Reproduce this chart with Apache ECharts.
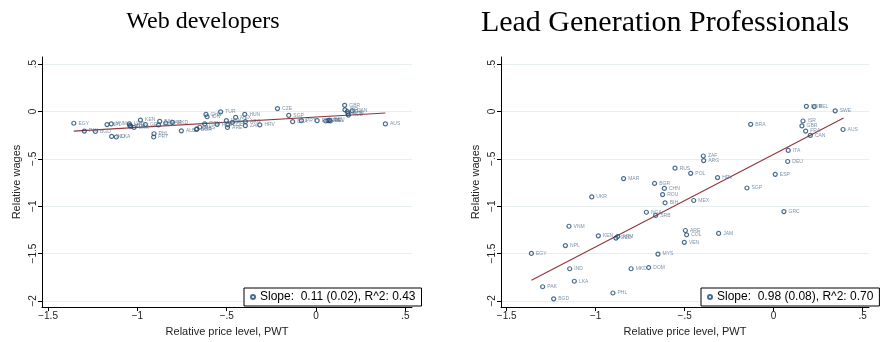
<!DOCTYPE html>
<html>
<head>
<meta charset="utf-8">
<script src="https://cdn.jsdelivr.net/npm/echarts@6/dist/echarts.min.js"></script>
<style>
html,body{margin:0;padding:0;background:#fff;}
#c{width:885px;height:342px;}
</style>
</head>
<body>
<div id="c"></div>
<script>
// ---- Data ----
const titles = ['Web developers', 'Lead Generation Professionals'];
const xTicks = [-1.5, -1, -0.5, 0, 0.5];
const yTicks = [-2, -1.5, -1, -0.5, 0, 0.5];

const webCodes = ['EGY','PAK','BGD','NPL','VNM','IND','LKA','UZB','MDA','KGZ','UKR','KEN','GEO','PHL','PRY','ARM','BIH','MAR','MKD','ALB','BGR','SRB','MYS','ROU','CHN','IDN','RUS','TUR','VEN','COL','ARE','POL','MEX','HUN','ARG','ZAF','HRV','CZE','SGP','BRA','PRT','ESP','GRC','ITA','DEU','BEL','GBR','ISR','FRA','NOR','CAN','NLD','AUS'];
const webPrice = [-1.356,-1.297,-1.235,-1.170,-1.146,-1.144,-1.118,-1.045,-1.043,-1.037,-1.019,-0.983,-0.955,-0.907,-0.909,-0.882,-0.875,-0.841,-0.804,-0.754,-0.670,-0.667,-0.651,-0.623,-0.616,-0.610,-0.554,-0.534,-0.502,-0.494,-0.496,-0.468,-0.450,-0.399,-0.396,-0.396,-0.315,-0.216,-0.153,-0.131,-0.082,0.006,0.054,0.067,0.075,0.080,0.160,0.162,0.175,0.179,0.203,0.181,0.388];
const webWage  = [-0.124,-0.207,-0.211,-0.138,-0.131,-0.263,-0.269,-0.131,-0.148,-0.155,-0.169,-0.090,-0.138,-0.235,-0.269,-0.142,-0.104,-0.121,-0.114,-0.204,-0.190,-0.183,-0.166,-0.131,-0.031,-0.055,-0.135,-0.003,-0.097,-0.140,-0.169,-0.114,-0.062,-0.031,-0.107,-0.149,-0.142,0.031,-0.041,-0.107,-0.097,-0.097,-0.100,-0.097,-0.090,-0.100,0.066,0.017,0.000,-0.021,0.007,-0.038,-0.131];
const webFitX = [-1.356, 0.388];
const webFitY = [-0.207, -0.015];
const webLegend = 'Slope:  0.11 (0.02), R^2: 0.43';

const leadCodes = ['NOR','BEL','SWE','BRA','ISR','GBR','FRA','CAN','AUS','ITA','DEU','ZAF','ARG','RUS','POL','ESP','HRV','MAR','BGR','SGP','CHN','ROU','UKR','MEX','BIH','NGA','GRC','SRB','VNM','ARE','JAM','COL','KEN','ARM','GEO','VEN','NPL','EGY','MYS','IND','MKD','DOM','LKA','PAK','PHL','BGD'];
const leadPrice = [0.184,0.228,0.346,-0.129,0.165,0.159,0.180,0.206,0.390,0.082,0.079,-0.395,-0.393,-0.554,-0.466,0.009,-0.315,-0.843,-0.669,-0.150,-0.614,-0.624,-1.022,-0.449,-0.610,-0.715,0.058,-0.663,-1.150,-0.496,-0.309,-0.489,-0.985,-0.876,-0.886,-0.502,-1.170,-1.361,-0.650,-1.146,-0.801,-0.702,-1.120,-1.298,-0.903,-1.236];
const leadWage  = [0.055,0.052,0.007,-0.135,-0.100,-0.152,-0.207,-0.252,-0.190,-0.411,-0.528,-0.470,-0.518,-0.598,-0.653,-0.663,-0.698,-0.708,-0.760,-0.808,-0.812,-0.877,-0.902,-0.940,-0.964,-1.064,-1.057,-1.098,-1.212,-1.257,-1.288,-1.302,-1.313,-1.320,-1.337,-1.382,-1.416,-1.499,-1.506,-1.661,-1.661,-1.648,-1.793,-1.851,-1.917,-1.979];
const leadFitX = [-1.361, 0.393];
const leadFitY = [-1.782, -0.069];
const leadLegend = 'Slope:  0.98 (0.08), R^2: 0.70';

// ---- Chart ----
const navy = '#1a476f';
const fitColor = '#90353b';
const sans = 'Liberation Sans';

function fmt(v){
  const a = Math.abs(v);
  let s = a === 0 ? '0' : (a < 1 ? String(a).replace(/^0/, '') : String(a));
  return (v < 0 ? '\u2212' : '') + s;
}
function zip(xs, ys, codes){
  return xs.map((x, i) => codes ? {value:[x, ys[i]], name: codes[i]} : [x, ys[i]]);
}

const grids = [
  {left: 42, top: 57, width: 370, height: 255},
  {left: 501, top: 57, width: 368, height: 255}
];
const xRanges = [[-1.534, 0.537], [-1.532, 0.536]];

function xAxisFor(i){
  return {
    type: 'value', gridIndex: i, min: xRanges[i][0], max: xRanges[i][1],
    name: 'Relative price level, PWT', nameLocation: 'middle', nameGap: 17,
    nameTextStyle: {fontFamily: sans, fontSize: 11, color: '#222'},
    axisLine: {show: true, onZero: false, lineStyle: {color: '#000', width: 1}},
    axisTick: {show: true, length: 4, customValues: xTicks, lineStyle: {color: '#000'}},
    axisLabel: {customValues: xTicks, formatter: fmt, fontFamily: sans, fontSize: 10, color: '#222', margin: 4},
    splitLine: {show: false}
  };
}
function yAxisFor(i){
  return {
    type: 'value', gridIndex: i, min: -2.066, max: 0.576,
    name: 'Relative wages', nameLocation: 'middle', nameGap: 20,
    nameTextStyle: {fontFamily: sans, fontSize: 11, color: '#222'},
    axisLine: {show: true, onZero: false, lineStyle: {color: '#000', width: 1}},
    axisTick: {show: true, length: 4, customValues: yTicks, lineStyle: {color: '#000'}},
    axisLabel: {customValues: yTicks, formatter: fmt, rotate: 90, fontFamily: sans, fontSize: 10, color: '#222', margin: 4},
    splitLine: {show: true, lineStyle: {color: '#e6eef0', width: 1}}
  };
}

function scatterFor(i, name, xs, ys, codes){
  return {
    type: 'scatter', name: name, xAxisIndex: i, yAxisIndex: i,
    data: zip(xs, ys, codes),
    symbol: 'circle', symbolSize: 4,
    itemStyle: {color: 'rgba(255,255,255,0)', borderColor: navy, borderWidth: 1.2},
    label: {show: true, position: 'right', distance: 2, formatter: p => p.name,
      fontFamily: sans, fontSize: 5, color: '#5a7892'},
    emphasis: {disabled: true},
    z: 3
  };
}
function fitFor(i, xs, ys){
  return {
    type: 'line', xAxisIndex: i, yAxisIndex: i,
    data: zip(xs, ys), symbol: 'none', silent: true,
    lineStyle: {color: fitColor, width: 1.1}, z: 2
  };
}

const option = {
  animation: false,
  backgroundColor: '#fff',
  title: [
    {text: titles[0], left: 198, top: 5, textAlign: 'center',
     textStyle: {fontFamily: 'Liberation Serif', fontSize: 24, fontWeight: 'normal', color: '#000'}},
    {text: titles[1], left: 660, top: 3, textAlign: 'center',
     textStyle: {fontFamily: 'Liberation Serif', fontSize: 30, fontWeight: 'normal', color: '#000'}}
  ],
  legend: [
    {data: [webLegend], left: 244, top: 288, width: 164, height: 20,
     borderColor: '#000', borderWidth: 1, backgroundColor: '#fff', padding: [3, 6, 3, 6],
     itemWidth: 4, itemHeight: 4, itemGap: 4, selectedMode: false,
     textStyle: {fontFamily: sans, fontSize: 12, color: '#000'}},
    {data: [leadLegend], left: 701, top: 288, width: 165, height: 20,
     borderColor: '#000', borderWidth: 1, backgroundColor: '#fff', padding: [3, 6, 3, 6],
     itemWidth: 4, itemHeight: 4, itemGap: 4, selectedMode: false,
     textStyle: {fontFamily: sans, fontSize: 12, color: '#000'}}
  ],
  grid: grids,
  xAxis: [xAxisFor(0), xAxisFor(1)],
  yAxis: [yAxisFor(0), yAxisFor(1)],
  series: [
    fitFor(0, webFitX, webFitY),
    scatterFor(0, webLegend, webPrice, webWage, webCodes),
    fitFor(1, leadFitX, leadFitY),
    scatterFor(1, leadLegend, leadPrice, leadWage, leadCodes)
  ]
};

const chart = echarts.init(document.getElementById('c'), null, {renderer: 'canvas'});
chart.setOption(option);
</script>
</body>
</html>
